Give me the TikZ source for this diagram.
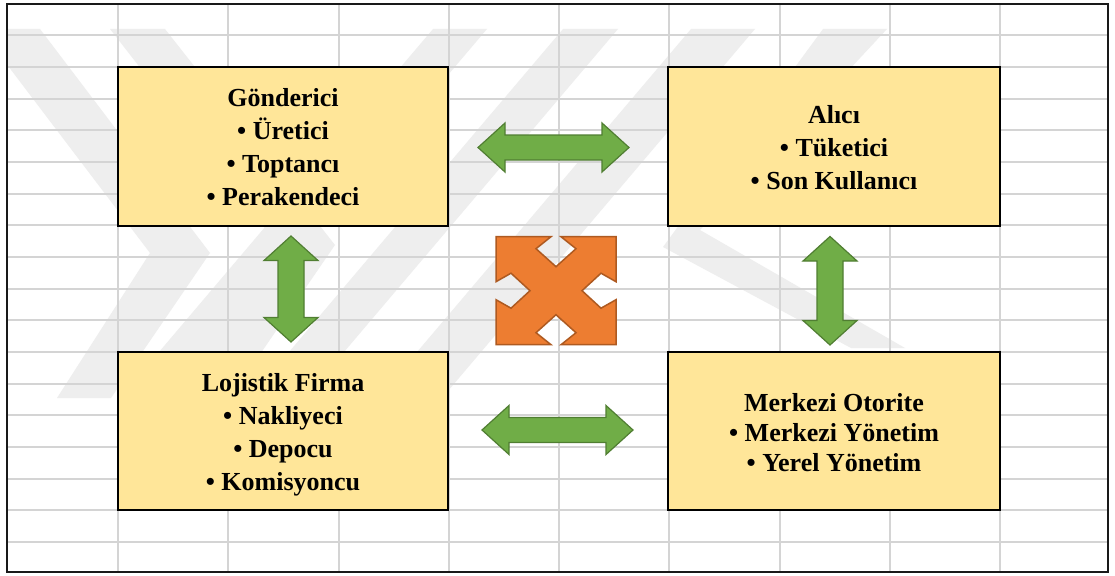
\documentclass[tikz,border=0pt]{standalone}
\usepackage{fontspec}
\setmainfont{Liberation Serif}
\definecolor{gridgray}{RGB}{212,212,212}
\definecolor{markgray}{RGB}{238,238,238}
\definecolor{boxfill}{HTML}{FFE699}
\definecolor{greenfill}{HTML}{70AD47}
\definecolor{greenline}{HTML}{507E32}
\definecolor{orangefill}{HTML}{ED7D31}
\definecolor{orangeline}{HTML}{AE5A21}
\tikzset{
  gridline/.style={draw=gridgray, line width=2pt},
  markband/.style={fill=markgray},
  actor/.style={draw=black, line width=2.2pt, fill=boxfill, inner sep=0pt},
  actortext/.style={inner sep=0pt, align=center, font=\fontsize{26}{33}\selectfont\bfseries},
  greenarrow/.style={fill=greenfill, draw=greenline, line width=1.2pt, line join=miter},
  quadarrow/.style={fill=orangefill, draw=orangeline, line width=1.5pt, line join=miter},
  frameline/.style={draw=black!90, line width=2.5pt}
}
% horizontal double block arrow: left tip x, right tip x, axis y
\newcommand\hDblArrow[3]{%
  \draw[greenarrow] (#1,#3) -- ({#1+27},{#3-24.5}) -- ({#1+27},{#3-12.5})
    -- ({#2-27},{#3-12.5}) -- ({#2-27},{#3-24.5}) -- (#2,#3)
    -- ({#2-27},{#3+24.5}) -- ({#2-27},{#3+12.5}) -- ({#1+27},{#3+12.5})
    -- ({#1+27},{#3+24.5}) -- cycle;}
% vertical double block arrow: axis x, top tip y, bottom tip y
\newcommand\vDblArrow[3]{%
  \draw[greenarrow] (#1,#2) -- ({#1+27},{#2+24.5}) -- ({#1+13},{#2+24.5})
    -- ({#1+13},{#3-24.5}) -- ({#1+27},{#3-24.5}) -- (#1,#3)
    -- ({#1-27},{#3-24.5}) -- ({#1-13},{#3-24.5}) -- ({#1-13},{#2+24.5})
    -- ({#1-27},{#2+24.5}) -- cycle;}
\begin{document}
\begin{tikzpicture}[x=1pt,y=-1pt]
  \useasboundingbox (0,0) rectangle (1115,575);
  \fill[white] (0,0) rectangle (1115,575);

  % faint background emblem
  \begin{scope}
    \clip (7,4) rectangle (1108,572);
    \fill[markband] (-20,29) -- (40,29) -- (210,253) -- (111,398) -- (57,398) -- (150,253) -- cycle;
    \fill[markband] (110,29) -- (165,29) -- (335,245) -- (230,398) -- (175,398) -- (278,245) -- cycle;
    \fill[markband] (433,29) -- (487,29) -- (174,398) -- (120,398) -- cycle;
    \fill[markband] (563,29) -- (618,29) -- (305,398) -- (250,398) -- cycle;
    \fill[markband] (691,29) -- (755,29) -- (442,398) -- (378,398) -- cycle;
    \fill[markband] (823,29) -- (887,29) -- (700,230) -- (905,348) -- (851,348) -- (663,247) -- cycle;
  \end{scope}

  % spreadsheet grid
  \foreach \i in {0,...,8}
    \draw[gridline] ({118+110.25*\i},4) -- ({118+110.25*\i},572);
  \foreach \j in {0,...,16}
    \draw[gridline] (7,{35.5+31.66*\j}) -- (1108,{35.5+31.66*\j});
  \draw[frameline] (7,4) rectangle (1108,572);

  % actors
  \node[actor, minimum width=330pt, minimum height=159pt] (sender) at (283,146.5) {};
  \node[actor, minimum width=332pt, minimum height=159pt] (receiver) at (834,146.5) {};
  \node[actor, minimum width=330pt, minimum height=158pt] (logistics) at (283,431) {};
  \node[actor, minimum width=332pt, minimum height=158pt] (authority) at (834,431) {};

  \node[actortext] (senderText) at ([yshift=-1pt]sender.center)
    {Gönderici\\• Üretici\\• Toptancı\\• Perakendeci};
  \node[actortext] (receiverText) at ([yshift=-1pt]receiver.center)
    {Alıcı\\• Tüketici\\• Son Kullanıcı};
  \node[actortext] (logisticsText) at ([yshift=-4pt]logistics.center)
    {Lojistik Firma\\• Nakliyeci\\• Depocu\\• Komisyoncu};
  \node[actortext, font=\fontsize{26}{30}\selectfont\bfseries] (authorityText)
    at ([yshift=-2pt]authority.center)
    {Merkezi Otorite\\• Merkezi Yönetim\\• Yerel Yönetim};

  % two-way links between actors
  \hDblArrow{478}{629}{147.5}
  \hDblArrow{482}{633}{430}
  \vDblArrow{291}{236}{342}
  \vDblArrow{830}{236.5}{345}

  % central four-way arrow
  \begin{scope}[shift={(556,290.7)}]
    \draw[quadarrow] (-60,-54) -- (-5,-54) -- (-20,-42) -- (0,-24) -- (20,-42) -- (5,-54)
      -- (60,-54) -- (60,-9) -- (45,-17.5) -- (26,0) -- (45,17.5) -- (60,9)
      -- (60,54) -- (5,54) -- (20,42) -- (0,24) -- (-20,42) -- (-5,54)
      -- (-60,54) -- (-60,9) -- (-45,17.5) -- (-26,0) -- (-45,-17.5) -- (-60,-9) -- cycle;
  \end{scope}
\end{tikzpicture}
\end{document}
